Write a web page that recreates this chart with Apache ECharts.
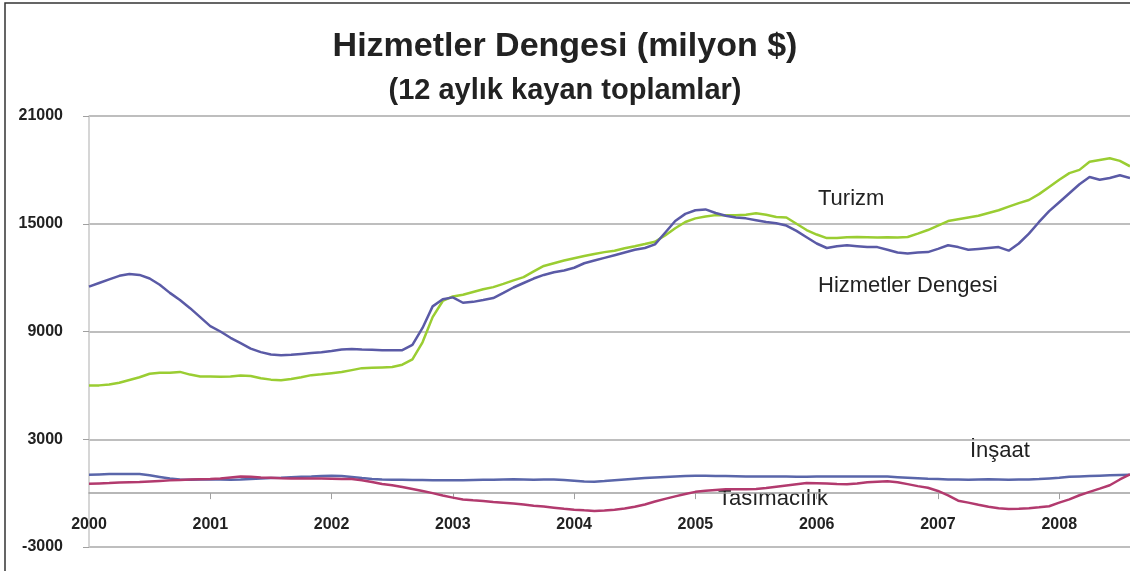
<!DOCTYPE html>
<html>
<head>
<meta charset="utf-8">
<script src="https://cdn.jsdelivr.net/npm/echarts@6/dist/echarts.min.js"></script>
<style>
  html, body { margin: 0; padding: 0; background: #fff; }
  #main { width: 1130px; height: 571px; }
</style>
</head>
<body>
<div id="main"></div>
<script>
// Hizmetler dengesi - 12 aylik kayan toplamlar (milyon $), aylik, Ocak 2000 - Agustos 2008
var yearLabels = ['2000', '2001', '2002', '2003', '2004', '2005', '2006', '2007', '2008'];

var months = [];
for (var y = 2000; y <= 2008; y++) {
    for (var mo = 1; mo <= 12; mo++) {
        if (y === 2008 && mo > 8) break;
        months.push(y + '-' + (mo < 10 ? '0' + mo : mo));
    }
}

var hizmetler = [
    11500, 11700, 11900, 12100, 12200, 12150, 11950, 11600, 11150, 10750, 10300, 9800,
    9300, 9000, 8650, 8350, 8050, 7850, 7720, 7680, 7700, 7750, 7800, 7850,
    7920, 8000, 8030, 8000, 7980, 7960, 7950, 7960, 8250, 9200, 10400, 10800,
    10900, 10600, 10650, 10750, 10860, 11150, 11450, 11700, 11950, 12150, 12300, 12400,
    12550, 12800, 12950, 13100, 13250, 13400, 13550, 13650, 13850, 14500, 15150, 15550,
    15750, 15800, 15600, 15450, 15350, 15300, 15200, 15100, 15030, 14900, 14600, 14250,
    13900, 13650, 13750, 13800, 13750, 13700, 13700, 13550, 13400, 13350, 13400, 13420,
    13600, 13800, 13700, 13550, 13600, 13650, 13700, 13500, 13900, 14450, 15100, 15700,
    16200, 16700, 17200, 17600, 17450, 17550, 17700, 17550
];

var turizm = [
    6000, 6000, 6050, 6150, 6300, 6450, 6650, 6700, 6700, 6750, 6600, 6500,
    6500, 6480, 6500, 6550, 6520, 6400, 6320, 6290, 6350, 6450, 6570, 6620,
    6680, 6740, 6850, 6960, 6980, 7000, 7020, 7150, 7450, 8400, 9800, 10700,
    10950, 11050, 11200, 11350, 11470, 11650, 11850, 12030, 12350, 12650, 12800, 12950,
    13080, 13200, 13320, 13420, 13500, 13640, 13750, 13870, 14000, 14350, 14750, 15100,
    15300, 15400, 15480, 15480, 15470, 15500, 15580, 15500, 15380, 15350, 15000, 14650,
    14400, 14200, 14200, 14250, 14260, 14250, 14230, 14250, 14240, 14260, 14450, 14650,
    14900, 15150, 15250, 15350, 15450, 15600, 15750, 15950, 16150, 16320, 16650, 17050,
    17450, 17820, 18000, 18450, 18550, 18650, 18500, 18200
];

var insaat = [
    1020, 1040, 1060, 1070, 1070, 1060, 990, 900, 810, 760, 750, 760,
    770, 760, 750, 760, 780, 810, 840, 860, 890, 910, 920, 950,
    970, 960, 900, 840, 790, 760, 750, 740, 730, 730, 720, 720,
    710, 720, 730, 740, 750, 760, 770, 760, 750, 760, 760, 730,
    690, 650, 630, 670, 720, 760, 800, 840, 870, 900, 930, 950,
    970, 970, 960, 950, 940, 930, 930, 920, 920, 920, 910, 910,
    920, 920, 930, 930, 920, 920, 930, 920, 890, 860, 830, 800,
    780, 760, 760, 750, 760, 770, 760, 750, 760, 760, 780, 820,
    860, 910, 930, 950, 970, 990, 1010, 1020
];

var tasimacilik = [
    520, 540, 560, 590, 610, 620, 650, 680, 710, 730, 760, 770,
    780, 820, 870, 920, 910, 870, 850, 830, 820, 820, 820, 810,
    800, 790, 780, 720, 620, 510, 440, 340, 230, 120, 0, -130,
    -250, -350, -400, -440, -490, -530, -580, -630, -700, -750, -810, -870,
    -920, -960, -990, -970, -920, -860, -760, -630, -470, -320, -180, -50,
    70, 130, 180, 210, 220, 220, 230, 280, 360, 430, 500, 560,
    550, 530, 510, 500, 540, 600, 640, 660, 610, 500, 390, 300,
    120, -120, -420, -530, -650, -760, -840, -880, -870, -840, -790, -730,
    -530, -350, -120, 70, 250, 440, 760, 1040
];

var myChart = echarts.init(document.getElementById('main'));

var baseFont = 'Liberation Sans, Arial, sans-serif';

var option = {
    backgroundColor: '#fff',
    animation: false,
    title: [
        {
            text: 'Hizmetler Dengesi (milyon $)',
            left: 'center',
            top: 25,
            textStyle: { fontFamily: baseFont, fontSize: 34, fontWeight: 'bold', color: '#222' }
        },
        {
            text: '(12 aylık kayan toplamlar)',
            left: 'center',
            top: 71,
            textStyle: { fontFamily: baseFont, fontSize: 29, fontWeight: 'bold', color: '#222' }
        }
    ],
    grid: {
        left: 89,
        right: 0,
        top: 116,
        bottom: 24,
        outerBoundsMode: 'none'
    },
    xAxis: {
        type: 'category',
        boundaryGap: false,
        data: months,
        axisLine: { onZero: true, lineStyle: { color: '#a0a0a0', width: 1.5 } },
        axisTick: {
            show: true,
            length: 6,
            interval: function (index) { return index % 12 === 0 && index > 0; },
            lineStyle: { color: '#a0a0a0' }
        },
        axisLabel: {
            interval: function (index) { return index % 12 === 0; },
            formatter: function (value) { return value.slice(0, 4); },
            // etiketler grid altina gore yerlesiyor, sifir cizgisinin altina cek
            margin: -30,
            fontFamily: baseFont,
            fontSize: 16,
            fontWeight: 'bold',
            color: '#222'
        },
        splitLine: { show: false }
    },
    yAxis: {
        type: 'value',
        min: -3000,
        max: 21000,
        interval: 6000,
        axisLine: { show: true, lineStyle: { color: '#c8c8c8', width: 1.5 } },
        axisTick: { show: true, length: 6, lineStyle: { color: '#a0a0a0' } },
        axisLabel: {
            margin: 26,
            formatter: function (v) { return String(v); },
            fontFamily: baseFont,
            fontSize: 16,
            fontWeight: 'bold',
            color: '#222'
        },
        splitLine: { show: true, lineStyle: { color: '#a8a8a8', width: 1.5 } }
    },
    series: [
        {
            name: 'Turizm',
            type: 'line',
            data: turizm,
            showSymbol: false,
            lineStyle: { color: '#9acd32', width: 2.5 },
            itemStyle: { color: '#9acd32' }
        },
        {
            name: 'Hizmetler Dengesi',
            type: 'line',
            data: hizmetler,
            showSymbol: false,
            lineStyle: { color: '#5a5aa6', width: 2.5 },
            itemStyle: { color: '#5a5aa6' }
        },
        {
            name: 'İnşaat',
            type: 'line',
            data: insaat,
            showSymbol: false,
            lineStyle: { color: '#5a66aa', width: 2.5 },
            itemStyle: { color: '#5a66aa' }
        },
        {
            name: 'Tasımacılık',
            type: 'line',
            data: tasimacilik,
            showSymbol: false,
            lineStyle: { color: '#b23a6e', width: 2.5 },
            itemStyle: { color: '#b23a6e' }
        }
    ],
    graphic: [
        // cerceve
        {
            type: 'rect',
            shape: { x: 5, y: 3, width: 1135, height: 580 },
            style: { fill: 'none', stroke: '#333', lineWidth: 1.5 },
            silent: true
        },
        { type: 'text', left: 818, top: 188, style: { text: 'Turizm', font: '22px ' + baseFont, fill: '#222' } },
        { type: 'text', left: 818, top: 275, style: { text: 'Hizmetler Dengesi', font: '22px ' + baseFont, fill: '#222' } },
        { type: 'text', left: 970, top: 440, style: { text: 'İnşaat', font: '22px ' + baseFont, fill: '#222' } },
        { type: 'text', left: 718, top: 488, style: { text: 'Tasımacılık', font: '22px ' + baseFont, fill: '#222' } }
    ]
};

myChart.setOption(option);
</script>
</body>
</html>
